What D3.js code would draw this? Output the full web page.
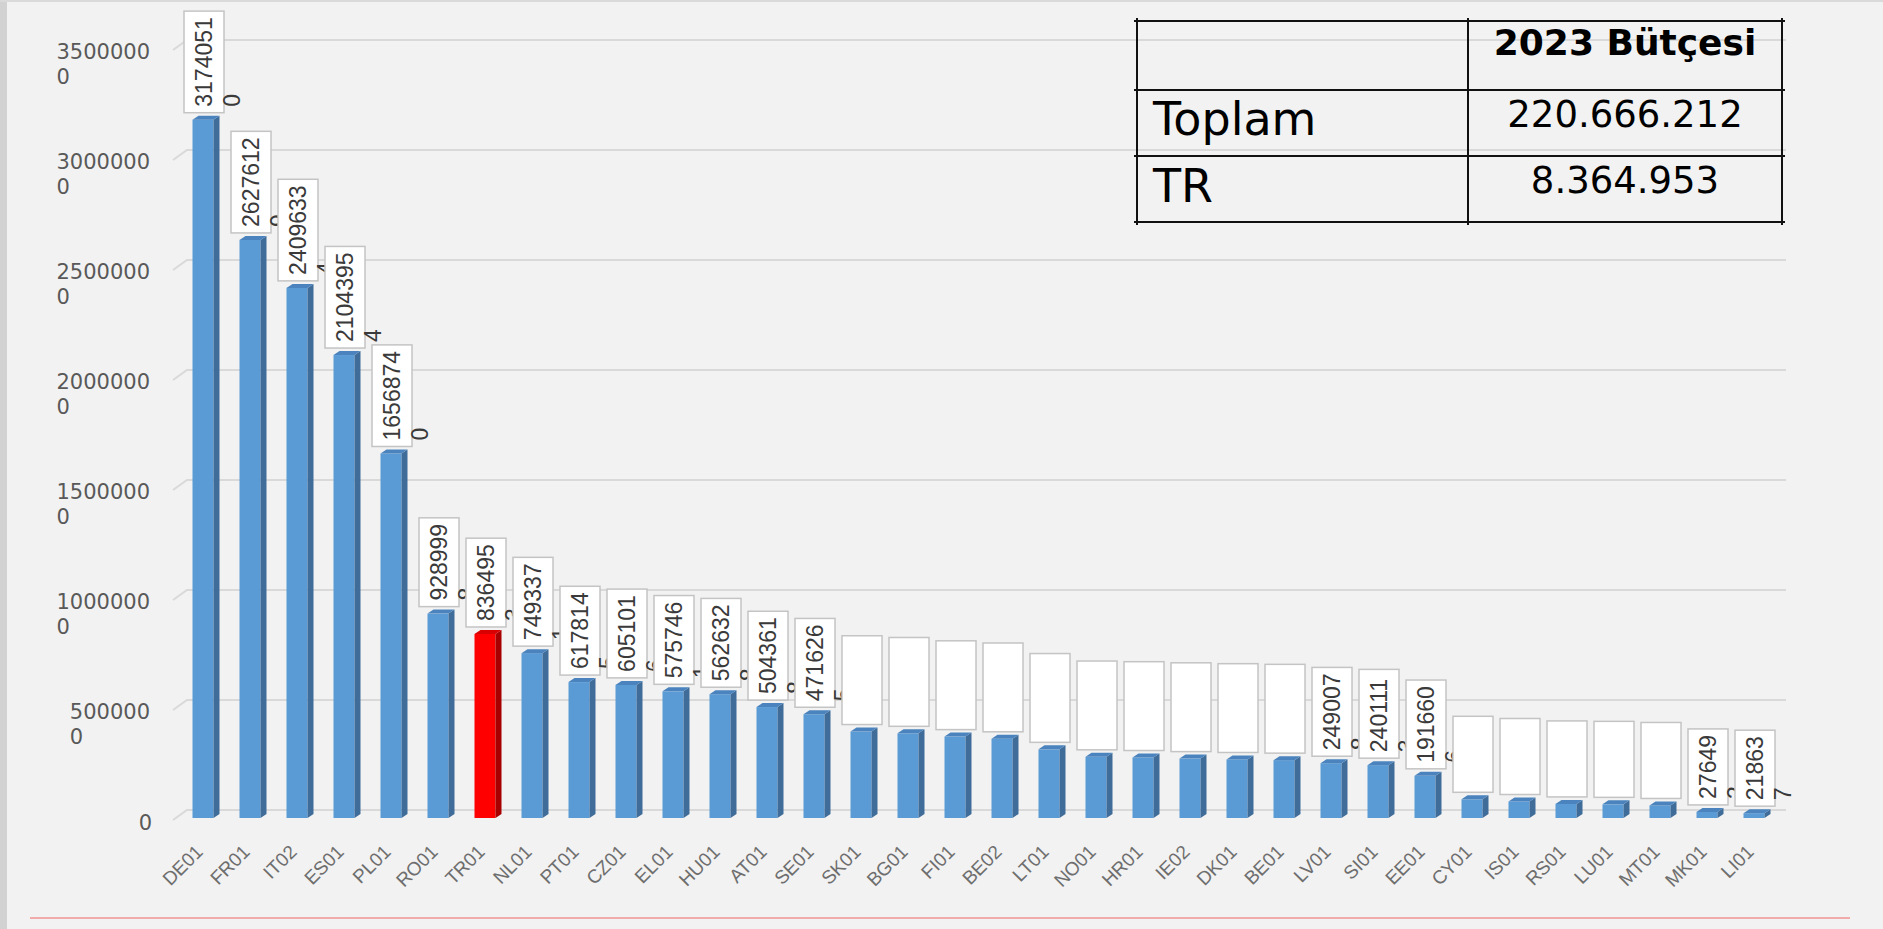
<!DOCTYPE html>
<html>
<head>
<meta charset="utf-8">
<script src="https://cdn.jsdelivr.net/npm/d3@7"></script>
<style>
  body { margin: 0; background: #f2f2f2; }
  svg { display: block; }
</style>
</head>
<body>
<script>
// categories (program codes) in the order drawn
var categories = ['DE01', 'FR01', 'IT02', 'ES01', 'PL01', 'RO01', 'TR01', 'NL01', 'PT01', 'CZ01',
  'EL01', 'HU01', 'AT01', 'SE01', 'SK01', 'BG01', 'FI01', 'BE02', 'LT01', 'NO01',
  'HR01', 'IE02', 'DK01', 'BE01', 'LV01', 'SI01', 'EE01', 'CY01', 'IS01', 'RS01',
  'LU01', 'MT01', 'MK01', 'LI01'];

// 2023 budget per program (read off the labels / estimated from bar heights)
var budgets = [31740510, 26276129, 24096334, 21043954, 16568740, 9289998, 8364953, 7493371, 6178145, 6051016,
  5757461, 5626328, 5043618, 4716265, 3930000, 3850000, 3700000, 3600000, 3120000, 2780000,
  2750000, 2700000, 2660000, 2630000, 2490078, 2401113, 1916606, 850000, 750000, 640000,
  620000, 570000, 276492, 218637];

// programs whose data label box is drawn empty
var emptyLabels = ['SK01', 'BG01', 'FI01', 'BE02', 'LT01', 'NO01', 'HR01', 'IE02', 'DK01', 'BE01',
  'CY01', 'IS01', 'RS01', 'LU01', 'MT01'];

var highlight = 'TR01';

var yTicks = [0, 5000000, 10000000, 15000000, 20000000, 25000000, 30000000, 35000000];

// summary table
var tableHeader = ['', '2023 Bütçesi'];
var tableRowNames = ['Toplam', 'TR'];
var tableRowValues = ['220.666.212', '8.364.953'];

var width = 1883, height = 929;

var svg = d3.select('body').append('svg').attr('width', width).attr('height', height);

// frame bits of the screenshot
svg.append('rect').attr('width', width).attr('height', height).attr('fill', '#f2f2f2');
svg.append('rect').attr('width', 7).attr('height', height).attr('fill', '#d2d2d2');
svg.append('rect').attr('width', width).attr('height', 2).attr('fill', '#dadada');
svg.append('line').attr('x1', 30).attr('x2', 1850).attr('y1', 918).attr('y2', 918)
  .attr('stroke', '#f1abab').attr('stroke-width', 2);

var y = d3.scaleLinear().domain([0, 35000000]).range([810, 40]);
var x = d3.scalePoint().domain(categories).range([203, 1754]);

var front = 8;   // front plane sits a bit lower than the back wall
var barW = 21, depthX = 6, depthY = 4;

// gridlines with the little 3D stub at the left
svg.append('g').selectAll('path')
  .data(yTicks)
  .enter()
  .append('path')
  .attr('d', function (d) {
    var yy = y(d);
    return 'M173,' + (yy + 10) + 'L187,' + yy + 'L1786,' + yy;
  })
  .attr('fill', 'none')
  .attr('stroke', '#d9d9d9')
  .attr('stroke-width', 2);

// y axis labels, wrapped like the original (last digit on a second line)
var yLab = svg.append('g').attr('font-family', 'DejaVu Sans').attr('font-size', 21).attr('fill', '#595959');
yTicks.forEach(function (v) {
  var s = String(v);
  if (s.length === 1) {
    yLab.append('text').attr('x', 152).attr('y', y(v) + 20).attr('text-anchor', 'end').text(s);
    return;
  }
  var t1 = yLab.append('text').attr('x', 150).attr('y', y(v) + 19).attr('text-anchor', 'end').text(s.slice(0, -1));
  var w = t1.node().getComputedTextLength();
  yLab.append('text').attr('x', 150 - w).attr('y', y(v) + 44).text(s.slice(-1));
});

var data = categories.map(function (c, i) { return { cat: c, value: budgets[i] }; });

// 3D columns
var bars = svg.append('g').selectAll('g').data(data).enter().append('g');

function topY(d) { return y(d.value) + front; }
function baseY() { return y(0) + front; }

bars.append('rect')
  .attr('x', function (d) { return x(d.cat) - barW / 2; })
  .attr('y', topY)
  .attr('width', barW)
  .attr('height', function (d) { return baseY() - topY(d); })
  .attr('fill', function (d) { return d.cat === highlight ? '#ff0000' : '#5b9bd5'; });

bars.append('path')
  .attr('d', function (d) {
    var x1 = x(d.cat) + barW / 2, t = topY(d), b = baseY();
    return 'M' + x1 + ',' + t + 'L' + (x1 + depthX) + ',' + (t - depthY) +
      'L' + (x1 + depthX) + ',' + (b - depthY) + 'L' + x1 + ',' + b + 'Z';
  })
  .attr('fill', function (d) { return d.cat === highlight ? '#a80000' : '#3f6c99'; });

bars.append('path')
  .attr('d', function (d) {
    var x0 = x(d.cat) - barW / 2, t = topY(d);
    return 'M' + x0 + ',' + t + 'L' + (x0 + depthX) + ',' + (t - depthY) +
      'L' + (x0 + barW + depthX) + ',' + (t - depthY) + 'L' + (x0 + barW) + ',' + t + 'Z';
  })
  .attr('fill', function (d) { return d.cat === highlight ? '#d80000' : '#4a83bd'; });

// data labels: boxed, rotated, last digit spills out to the right
var digitW = 12.8;
var labels = svg.append('g').attr('font-family', 'Liberation Sans, Arial').attr('font-size', 23).attr('fill', '#3a3a3a');
data.forEach(function (d) {
  var s = String(d.value);
  var line1 = s.slice(0, -1), line2 = s.slice(-1);
  var boxH = line1.length * digitW + 12;
  var boxW = 40;
  var left = x(d.cat) - 19;
  var bottom = topY(d) - depthY - 3;

  labels.append('rect')
    .attr('x', left).attr('y', bottom - boxH)
    .attr('width', boxW).attr('height', boxH)
    .attr('fill', '#ffffff').attr('stroke', '#c4c4c4').attr('stroke-width', 1.5);

  if (emptyLabels.indexOf(d.cat) >= 0) return;

  labels.append('text')
    .attr('transform', 'translate(' + (left + 28) + ',' + (bottom - 6) + ') rotate(-90)')
    .text(line1);
  labels.append('text')
    .attr('transform', 'translate(' + (left + 56) + ',' + (bottom - 6) + ') rotate(-90)')
    .text(line2);
});

// category axis labels
svg.append('g').selectAll('text')
  .data(categories)
  .enter()
  .append('text')
  .attr('transform', function (d) { return 'translate(' + (x(d) + 1) + ',853) rotate(-45)'; })
  .attr('text-anchor', 'end')
  .attr('font-family', 'Liberation Sans, Arial')
  .attr('font-size', 19)
  .attr('fill', '#6e6e6e')
  .text(function (d) { return d; });

// summary table in the top right
var colX = [1137, 1468, 1782];
var rowY = [21, 90, 156, 222];
var table = svg.append('g');

rowY.forEach(function (yy) {
  table.append('line').attr('x1', colX[0] - 3).attr('x2', colX[2] + 3).attr('y1', yy).attr('y2', yy)
    .attr('stroke', '#111').attr('stroke-width', 2);
});
colX.forEach(function (xx) {
  table.append('line').attr('x1', xx).attr('x2', xx).attr('y1', rowY[0] - 3).attr('y2', rowY[3] + 3)
    .attr('stroke', '#111').attr('stroke-width', 2);
});

var valueCx = (colX[1] + colX[2]) / 2;

table.append('text')
  .attr('x', valueCx).attr('y', 55)
  .attr('text-anchor', 'middle')
  .attr('font-family', 'DejaVu Sans').attr('font-weight', 'bold').attr('font-size', 36)
  .attr('fill', '#000')
  .text(tableHeader[1]);

var nameBase = [135, 202], valueBase = [127, 193];
tableRowNames.forEach(function (n, i) {
  table.append('text')
    .attr('x', 1153).attr('y', nameBase[i])
    .attr('font-family', 'DejaVu Sans').attr('font-size', 46).attr('fill', '#000')
    .text(n);
  table.append('text')
    .attr('x', valueCx).attr('y', valueBase[i])
    .attr('text-anchor', 'middle')
    .attr('font-family', 'DejaVu Sans').attr('font-size', 37).attr('fill', '#000')
    .text(tableRowValues[i]);
});
</script>
</body>
</html>
